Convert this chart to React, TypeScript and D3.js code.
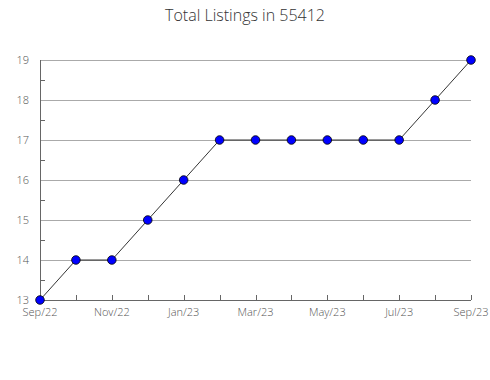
import React from "react";
import * as d3 from "d3";

const months = ["Sep/22","Oct/22","Nov/22","Dec/22","Jan/23","Feb/23","Mar/23","Apr/23","May/23","Jun/23","Jul/23","Aug/23","Sep/23"];
const values = [13,14,14,15,16,17,17,17,17,17,17,18,19];
const yTicks = [13,14,15,16,17,18,19];
const xLabelIdx = [0,2,4,6,8,10,12];

export default function App() {
  const W = 490, H = 380;
  const x = d3.scaleLinear().domain([0, months.length - 1]).range([40, 471]);
  const y = d3.scaleLinear().domain([13, 19]).range([300, 60]);
  const line = d3.line<number>().x((_, i) => x(i)).y(d => y(d));
  const minor = d3.range(13.5, 19, 1);
  const font = "'Open Sans', sans-serif";
  return (
    <svg width={W} height={H} style={{ position: "absolute", left: 0, top: 0 }}>
      <rect width={W} height={H} fill="#fff" />
      <text x={245} y={21} textAnchor="middle" fontFamily={font} fontSize={16} fontWeight={300} fill="#333">Total Listings in 55412</text>
      {yTicks.map(t => (
        <line key={t} x1={40} x2={471} y1={y(t) + 0.5} y2={y(t) + 0.5} stroke="#aaa" strokeWidth={1} />
      ))}
      {minor.map(t => (
        <line key={t} x1={40} x2={45} y1={Math.round(y(t)) + 0.5} y2={Math.round(y(t)) + 0.5} stroke="#666" />
      ))}
      {months.map((m, i) => (
        <line key={m} x1={Math.round(x(i)) + 0.5} x2={Math.round(x(i)) + 0.5} y1={300} y2={295} stroke="#666" />
      ))}
      <line x1={40.5} x2={40.5} y1={60} y2={300} stroke="#666" />
      <line x1={40} x2={471} y1={300.5} y2={300.5} stroke="#666" />
      {yTicks.map(t => (
        <text key={t} x={29} y={y(t) + 4} textAnchor="end" fontFamily={font} fontSize={11} fontWeight={300} fill="#555">{t}</text>
      ))}
      {xLabelIdx.map(i => (
        <text key={i} x={x(i)} y={316} textAnchor="middle" fontFamily={font} fontSize={11} fontWeight={300} fill="#555">{months[i]}</text>
      ))}
      <path d={line(values) || ""} fill="none" stroke="#000" strokeWidth={0.8} />
      {values.map((v, i) => (
        <circle key={i} cx={x(i)} cy={y(v)} r={4.3} fill="#0000ff" stroke="#000" strokeWidth={0.8} />
      ))}
    </svg>
  );
}
